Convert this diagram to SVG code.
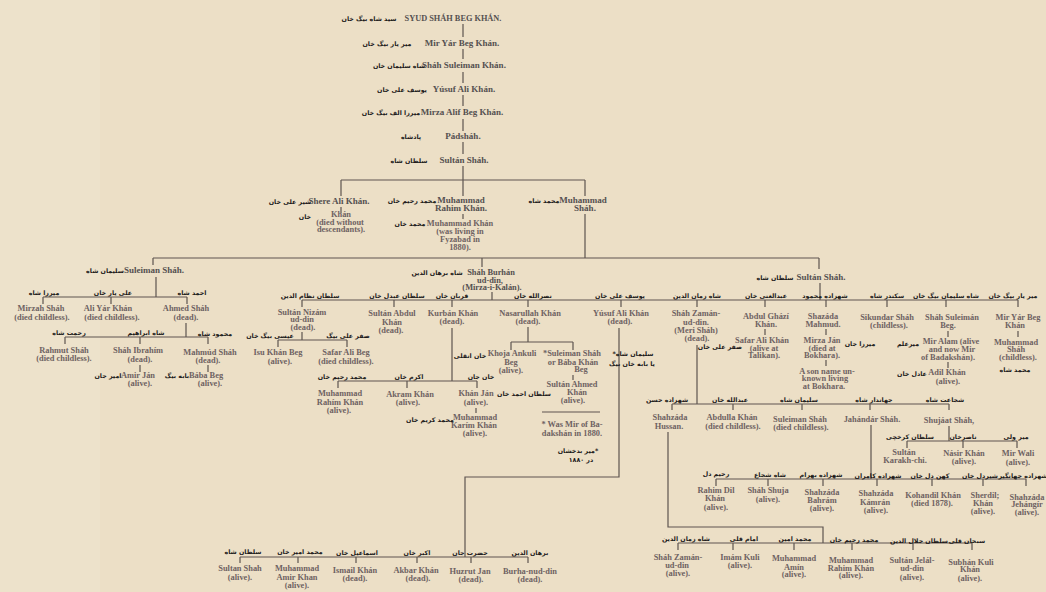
<svg xmlns="http://www.w3.org/2000/svg" width="1046" height="592" viewBox="0 0 1046 592">
<style>
.e{font-family:"Liberation Serif",serif;font-weight:bold;font-size:8.4px;fill:#6e6262;text-anchor:middle}
.t{font-family:"Liberation Serif",serif;font-weight:bold;font-size:9px;fill:#545050;text-anchor:middle}
.p{font-family:"DejaVu Sans",sans-serif;font-weight:bold;font-size:6.3px;fill:#1c1a1a;text-anchor:middle;direction:rtl;unicode-bidi:embed}
.c path{fill:none;stroke:#5e5550;stroke-width:1.2}
</style>
<rect width="1046" height="592" fill="#ecdfc6"/>
<rect x="0" y="0" width="100" height="592" fill="#efe4cf" opacity="0.6"/>
<g class="c" id="connectors">
<path d="M463 24V37M463 49V59M463 72V83M463 95V106M463 119V131M463 142V154M463 166V180"/>
<path d="M341 180H585M341 180V196M463 180V196M585 180V196M341 207V213M463 214V219M585 214V258"/>
<path d="M153 258H819M153 258V265M482 258V267M819 258V269M156 277V297M492 292V300M820 283V300"/>
<path d="M43 297H187M43 297V304M111 297V304M187 297V304M186 323V337M65 337H208M65 337V344M140 337V344M208 337V344M140 365V372M208 365V372"/>
<path d="M302 300H1018M302 300V307M394 300V307M452 300V307M528 300V307M621 300V307M697 300V307M765 300V307M826 300V307M887 300V307M946 300V307M1018 300V307"/>
<path d="M302 332V340M278 340H347M278 340V347M347 340V347"/>
<path d="M452 328V381M338 381H477M338 381V388M407 381V388M477 381V388M476 408V413"/>
<path d="M528 327V342M511 342H573M511 342V350M573 342V350M573 375V380M542 412H600"/>
<path d="M619 328V477H465V557M240 557H528M240 557V563M298 557V563M356 557V563M417 557V563M471 557V563M528 557V563"/>
<path d="M765 329V335M826 329V335M826 360V366M948 331V337M948 362V368M1018 331V337"/>
<path d="M697 345V404M672 404H949M672 404V410M733 404V410M802 404V410M870 404V410M949 404V410"/>
<path d="M949 426V441M907 441H1017M907 441V448M963 441V448M1017 441V448"/>
<path d="M871 425V479M716 479H1026M716 479V486M768 479V486M823 479V486M877 479V486M932 479V486M983 479V486M1026 479V486"/>
<path d="M668 432V527H823V543M678 543H972M678 543V550M733 543V550M794 543V550M852 543V550M913 543V550M972 543V550"/>
</g>
<g id="n-syud"><text class="t" x="453" y="21" style="font-size:8.3px">SYUD SHÁH BEG KHÁN.</text><text class="p" x="369" y="21">سيد شاه بيگ خان</text></g>
<g id="n-miryar"><text class="t" x="462" y="46">Mir Yár Beg Khán.</text><text class="p" x="387" y="46">مير يار بيگ خان</text></g>
<g id="n-shahsuleiman"><text class="t" x="464" y="68">Sháh Suleiman Khán.</text><text class="p" x="399" y="68">شاه سليمان خان</text></g>
<g id="n-yusuf"><text class="t" x="464" y="92">Yúsuf Ali Khán.</text><text class="p" x="402" y="92">يوسف على خان</text></g>
<g id="n-mirza"><text class="t" x="462" y="115">Mirza Alif Beg Khán.</text><text class="p" x="391" y="115">ميرزا الف بيگ خان</text></g>
<g id="n-padshah"><text class="t" x="463" y="139">Pádsháh.</text><text class="p" x="411" y="139">پادشاه</text></g>
<g id="n-sultan1"><text class="t" x="464" y="163">Sultán Sháh.</text><text class="p" x="409" y="163">سلطان شاه</text></g>
<g id="n-shere"><text class="t" x="339" y="204">Shere Ali Khán.</text><text class="p" x="290" y="204">شير على خان</text>
<text class="e" x="341" y="217">Khán</text><text class="e" x="340" y="225">(died without</text><text class="e" x="341" y="232">descendants).</text><text class="p" x="305" y="219">خان</text></g>
<g id="n-mrahim"><text class="t" x="461" y="203">Muhammad</text><text class="t" x="461" y="211">Rahim Khán.</text><text class="p" x="412" y="203">محمد رحيم خان</text>
<text class="e" x="460" y="226">Muhammad Khán</text><text class="e" x="460" y="234">(was living in</text><text class="e" x="460" y="242">Fyzabad in</text><text class="e" x="460" y="250">1880).</text><text class="p" x="410" y="226">محمد خان</text></g>
<g id="n-mshah"><text class="t" x="583" y="203">Muhammad</text><text class="t" x="585" y="211">Sháh.</text><text class="p" x="544" y="203">محمد شاه</text></g>
<g id="n-suleimanshah"><text class="t" x="154" y="273">Suleiman Sháh.</text><text class="p" x="105" y="273">سليمان شاه</text></g>
<g id="n-burhan"><text class="e" x="491" y="275" style="fill:#545050">Sháh Burhán</text><text class="e" x="490" y="282.5" style="fill:#545050">ud-din,</text><text class="e" x="492" y="290" style="fill:#545050">(Mirza-i-Kalán).</text><text class="p" x="437" y="275">شاه برهان الدين</text></g>
<g id="n-sultan2"><text class="t" x="821" y="280">Sultán Sháh.</text><text class="p" x="775" y="280">سلطان شاه</text></g>
<g id="n-mirzah"><text class="e" x="41" y="311">Mirzah Sháh</text><text class="e" x="42" y="320">(died childless).</text><text class="p" x="44" y="295">ميرزا شاه</text></g>
<g id="n-aliyar"><text class="e" x="108" y="311">Ali Yár Khán</text><text class="e" x="112" y="320">(died childless).</text><text class="p" x="113" y="295">على يار خان</text></g>
<g id="n-ahmed"><text class="e" x="186" y="311">Ahmed Sháh</text><text class="e" x="186" y="320">(dead).</text><text class="p" x="192" y="295">احمد شاه</text></g>
<g id="n-rahmut"><text class="e" x="64" y="353">Rahmut Sháh</text><text class="e" x="64" y="361">(died childless).</text><text class="p" x="69" y="335">رحمت شاه</text></g>
<g id="n-ibrahim"><text class="e" x="138" y="353">Sháh Ibrahím</text><text class="e" x="140" y="362">(dead).</text><text class="p" x="146" y="335">شاه ابراهيم</text></g>
<g id="n-amirjan"><text class="e" x="138" y="378">Amir Ján</text><text class="e" x="140" y="386">(alive).</text><text class="p" x="108" y="378">امير جان</text></g>
<g id="n-mahmud"><text class="e" x="210" y="355">Mahmúd Sháh</text><text class="e" x="208" y="363">(dead).</text><text class="p" x="215" y="336">محمود شاه</text></g>
<g id="n-baba"><text class="e" x="206" y="378">Bába Beg</text><text class="e" x="210" y="386">(alive).</text><text class="p" x="177" y="378">بابه بيگ</text></g>
<g id="n-nizam"><text class="e" x="302" y="315">Sultán Nizám</text><text class="e" x="302" y="322">ud-din</text><text class="e" x="303" y="330">(dead).</text><text class="p" x="310" y="298">سلطان نظام الدين</text></g>
<g id="n-isu"><text class="e" x="278" y="355">Isu Khán Beg</text><text class="e" x="280" y="364">(alive).</text><text class="p" x="270" y="338">عيسى بيگ خان</text></g>
<g id="n-safarbeg"><text class="e" x="346" y="355">Safar Ali Beg</text><text class="e" x="346" y="364">(died childless).</text><text class="p" x="348" y="338">صفر على بيگ</text></g>
<g id="n-abdul"><text class="e" x="392" y="316">Sultán Abdul</text><text class="e" x="392" y="325">Khán</text><text class="e" x="391" y="333">(dead).</text><text class="p" x="397" y="298">سلطان عبدل خان</text></g>
<g id="n-kurban"><text class="e" x="453" y="316">Kurbán Khán</text><text class="e" x="452" y="324">(dead).</text><text class="p" x="452" y="298">قربان خان</text></g>
<g id="n-mrahim2"><text class="e" x="340" y="396">Muhammad</text><text class="e" x="340" y="405">Rahím Khán</text><text class="e" x="339" y="413">(alive).</text><text class="p" x="342" y="379">محمد رحيم خان</text></g>
<g id="n-akram"><text class="e" x="410" y="397">Akram Khán</text><text class="e" x="408" y="405">(alive).</text><text class="p" x="409" y="379">اكرم خان</text></g>
<g id="n-khanjan"><text class="e" x="476" y="396">Khán Ján</text><text class="e" x="476" y="405">(alive).</text><text class="p" x="481" y="379">خان جان</text></g>
<g id="n-karim"><text class="e" x="475" y="420">Muhammad</text><text class="e" x="474" y="428">Karím Khán</text><text class="e" x="475" y="436">(alive).</text><text class="p" x="430" y="422">محمد كريم خان</text></g>
<g id="n-nasar"><text class="e" x="530" y="316">Nasarullah Khán</text><text class="e" x="528" y="324">(dead).</text><text class="p" x="533" y="298">نصرالله خان</text></g>
<g id="n-khoja"><text class="e" x="512" y="356">Khoja Ankuli</text><text class="e" x="511" y="365">Beg</text><text class="e" x="511" y="373">(alive).</text><text class="p" x="470" y="358">خان انقلى</text></g>
<g id="n-sulbaba"><text class="e" x="572" y="356">*Suleiman Sháh</text><text class="e" x="573" y="365">or Bába Khán</text><text class="e" x="581" y="372">Beg</text></g>
<g id="n-sahmed"><text class="e" x="572" y="387">Sultán Ahmed</text><text class="e" x="577" y="395">Khán</text><text class="e" x="573" y="403">(alive).</text><text class="p" x="524" y="396">سلطان احمد خان</text></g>
<g id="n-note"><text class="e" x="572" y="427">* Was Mir of Ba-</text><text class="e" x="572" y="436">dakshán in 1880.</text><text class="p" x="578" y="453">*مير بدخشان</text><text class="p" x="581" y="462">در ۱۸۸۰</text></g>
<g id="n-yusuf2"><text class="e" x="621" y="316">Yúsuf Ali Khán</text><text class="e" x="620" y="324">(dead).</text><text class="p" x="620" y="298">يوسف على خان</text>
<text class="p" x="633" y="356">سليمان شاه*</text><text class="p" x="632" y="366">يا بابه خان بيگ</text></g>
<g id="n-zaman"><text class="e" x="696" y="316">Sháh Zamán-</text><text class="e" x="696" y="325">ud-din.</text><text class="e" x="696" y="333">(Meri Sháh)</text><text class="e" x="697" y="341">(dead).</text><text class="p" x="697" y="298">شاه زمان الدين</text></g>
<g id="n-ghazi"><text class="e" x="766" y="319">Abdul Ghází</text><text class="e" x="766" y="327">Khán.</text><text class="p" x="766" y="298">عبدالغنى خان</text></g>
<g id="n-safarkhan"><text class="e" x="762" y="343">Safar Ali Khán</text><text class="e" x="764" y="351">(alive at</text><text class="e" x="764" y="358">Talikan).</text><text class="p" x="720" y="349">صفر على خان</text></g>
<g id="n-shazmahmud"><text class="e" x="823" y="319">Shazáda</text><text class="e" x="823" y="327">Mahmud.</text><text class="p" x="825" y="298">شهزاده محمود</text></g>
<g id="n-mirzajan"><text class="e" x="822" y="343">Mirza Ján</text><text class="e" x="822" y="351">(died at</text><text class="e" x="822" y="358">Bokhara).</text><text class="p" x="860" y="346">ميرزا جان</text></g>
<g id="n-son"><text class="e" x="827" y="374">A son name un-</text><text class="e" x="825" y="381">known living</text><text class="e" x="824" y="389">at Bokhara.</text></g>
<g id="n-sikundar"><text class="e" x="887" y="320">Sikundar Sháh</text><text class="e" x="889" y="328">(childless).</text><text class="p" x="887" y="298">سكندر شاه</text></g>
<g id="n-shsulbeg"><text class="e" x="952" y="320">Sháh Suleimán</text><text class="e" x="948" y="328">Beg.</text><text class="p" x="946" y="298">شاه سليمان بيگ خان</text></g>
<g id="n-miralam"><text class="e" x="951" y="344">Mir Alam (alive</text><text class="e" x="952" y="352">and now Mir</text><text class="e" x="948" y="360">of Badakshán).</text><text class="p" x="908" y="346">ميرعلم</text></g>
<g id="n-adil"><text class="e" x="947" y="375">Adil Khán</text><text class="e" x="948" y="384">(alive).</text><text class="p" x="912" y="376">عادل خان</text></g>
<g id="n-miryar2"><text class="e" x="1018" y="320">Mir Yár Beg</text><text class="e" x="1015" y="328">Khán</text><text class="p" x="1013" y="298">مير يار بيگ خان</text></g>
<g id="n-mshah2"><text class="e" x="1016" y="345">Muhammad</text><text class="e" x="1016" y="352">Sháh</text><text class="e" x="1018" y="360">(childless).</text><text class="p" x="1015" y="372">محمد شاه</text></g>
<g id="n-hussan"><text class="e" x="670" y="420">Shahzáda</text><text class="e" x="669" y="429">Hussan.</text><text class="p" x="667" y="402">شهزاده حسن</text></g>
<g id="n-abdulla"><text class="e" x="732" y="420">Abdulla Khán</text><text class="e" x="733" y="429">(died childless).</text><text class="p" x="730" y="402">عبدالله خان</text></g>
<g id="n-sulshah3"><text class="e" x="800" y="422">Suleiman Sháh</text><text class="e" x="801" y="430">(died childless).</text><text class="p" x="799" y="402">سليمان شاه</text></g>
<g id="n-jahandar"><text class="e" x="872" y="422">Jahándár Sháh.</text><text class="p" x="874" y="402">جهاندار شاه</text></g>
<g id="n-shujaat"><text class="e" x="949" y="423">Shujáat Sháh,</text><text class="p" x="945" y="402">شجاعت شاه</text></g>
<g id="n-karakh"><text class="e" x="904" y="455">Sultán</text><text class="e" x="905" y="463">Karakh-chi.</text><text class="p" x="910" y="439">سلطان كرخچى</text></g>
<g id="n-nasir"><text class="e" x="964" y="456">Násir Khán</text><text class="e" x="964" y="464">(alive).</text><text class="p" x="963" y="439">ناصرخان</text></g>
<g id="n-mirwali"><text class="e" x="1018" y="456">Mir Wali</text><text class="e" x="1018" y="465">(alive).</text><text class="p" x="1016" y="439">مير ولى</text></g>
<g id="n-rahimdil"><text class="e" x="716" y="493">Rahim Dil</text><text class="e" x="715" y="501">Khán</text><text class="e" x="716" y="510">(alive).</text><text class="p" x="716" y="476">رحيم دل</text></g>
<g id="n-shuja"><text class="e" x="768" y="493">Sháh Shuja</text><text class="e" x="768" y="502">(alive).</text><text class="p" x="770" y="477">شاه شجاع</text></g>
<g id="n-bahram"><text class="e" x="822" y="495">Shahzáda</text><text class="e" x="822" y="503">Bahrám</text><text class="e" x="822" y="511">(alive).</text><text class="p" x="821" y="477">شهزاده بهرام</text></g>
<g id="n-kamran"><text class="e" x="876" y="496">Shahzáda</text><text class="e" x="875" y="505">Kámrán</text><text class="e" x="876" y="513">(alive).</text><text class="p" x="878" y="478">شهزاده كامران</text></g>
<g id="n-kohandil"><text class="e" x="933" y="498">Kohandil Khán</text><text class="e" x="932" y="506">(died 1878).</text><text class="p" x="930" y="478">كهن دل خان</text></g>
<g id="n-sherdil"><text class="e" x="985" y="498">Sherdil;</text><text class="e" x="983" y="506">Khán</text><text class="e" x="983" y="514">(alive).</text><text class="p" x="980" y="478">شيردل خان</text></g>
<g id="n-jehangir"><text class="e" x="1027" y="500">Shahzáda</text><text class="e" x="1027" y="507">Jehángír</text><text class="e" x="1027" y="515">(alive).</text><text class="p" x="1023" y="478">شهزاده جهانگير</text></g>
<g id="n-zaman2"><text class="e" x="678" y="560">Sháh Zamán-</text><text class="e" x="677" y="568">ud-din</text><text class="e" x="678" y="576">(alive).</text><text class="p" x="686" y="541">شاه زمان الدين</text></g>
<g id="n-imam"><text class="e" x="740" y="560">Imám Kuli</text><text class="e" x="740" y="568">(alive).</text><text class="p" x="744" y="541">امام قلى</text></g>
<g id="n-amin"><text class="e" x="794" y="561">Muhammad</text><text class="e" x="794" y="570">Amín</text><text class="e" x="794" y="577">(alive).</text><text class="p" x="795" y="541">محمد امين</text></g>
<g id="n-mrahim3"><text class="e" x="851" y="563">Muhammad</text><text class="e" x="851" y="571">Rahim Khán</text><text class="e" x="851" y="578">(alive).</text><text class="p" x="854" y="542">محمد رحيم خان</text></g>
<g id="n-jelal"><text class="e" x="912" y="563">Sultán Jelál-</text><text class="e" x="912" y="571">ud-din</text><text class="e" x="912" y="580">(alive).</text><text class="p" x="919" y="543">سلطان جلال الدين</text></g>
<g id="n-subhan"><text class="e" x="971" y="565">Subhán Kuli</text><text class="e" x="970" y="572">Khán</text><text class="e" x="970" y="581">(alive).</text><text class="p" x="967" y="543">سبحان قلى</text></g>
<g id="n-sultanshah3"><text class="e" x="240" y="571">Sultan Shah</text><text class="e" x="240" y="580">(alive).</text><text class="p" x="243" y="554">سلطان شاه</text></g>
<g id="n-amirkhan"><text class="e" x="297" y="571">Muhammad</text><text class="e" x="297" y="580">Amir Khan</text><text class="e" x="297" y="588">(alive).</text><text class="p" x="300" y="554">محمد امير خان</text></g>
<g id="n-ismail"><text class="e" x="355" y="573">Ismail Khán</text><text class="e" x="355" y="581">(dead).</text><text class="p" x="357" y="555">اسماعيل خان</text></g>
<g id="n-akbar"><text class="e" x="416" y="573">Akbar Khán</text><text class="e" x="418" y="581">(dead).</text><text class="p" x="417" y="555">اكبر خان</text></g>
<g id="n-huzrut"><text class="e" x="470" y="574">Huzrut Jan</text><text class="e" x="471" y="582">(dead).</text><text class="p" x="470" y="555">حضرت جان</text></g>
<g id="n-burha"><text class="e" x="530" y="574">Burha-nud-din</text><text class="e" x="530" y="582">(dead).</text><text class="p" x="530" y="555">برهان الدين</text></g>
</svg>
